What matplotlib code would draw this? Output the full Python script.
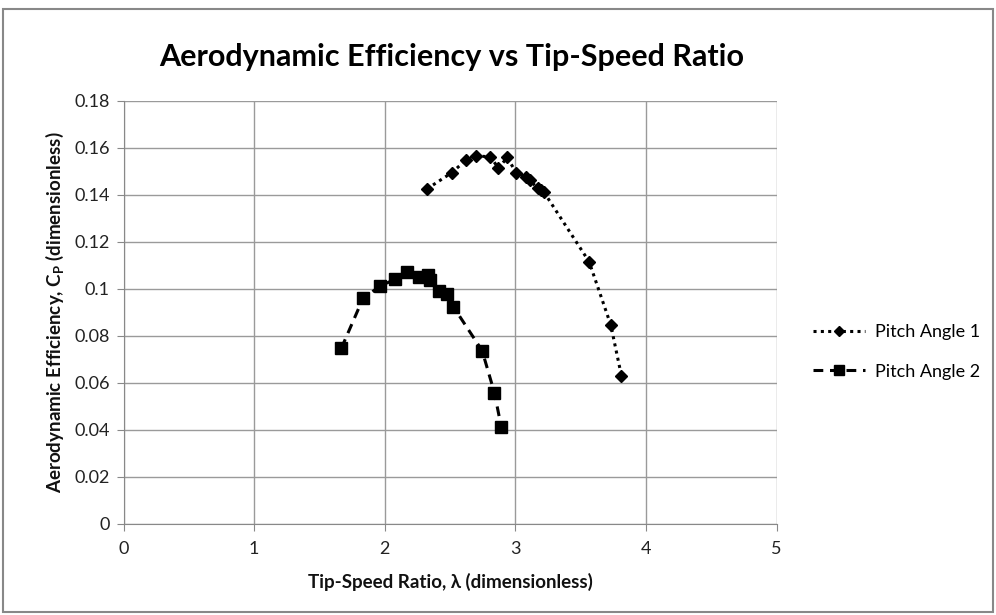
import matplotlib
matplotlib.use("Agg")
import matplotlib.pyplot as plt
from matplotlib.patches import Rectangle

plt.rcParams['font.family'] = ['Lato', 'DejaVu Sans']

# Data
tsr_pitch1 = [2.323, 2.513, 2.623, 2.700, 2.810, 2.871, 2.938, 3.007, 3.084, 3.110,
              3.170, 3.200, 3.220, 3.565, 3.731, 3.813]
cp_pitch1 = [0.1424, 0.1493, 0.1547, 0.1564, 0.1561, 0.1512, 0.1558, 0.1493, 0.1475, 0.1462,
             0.1428, 0.1418, 0.1410, 0.1115, 0.0846, 0.0629]
tsr_pitch2 = [1.668, 1.834, 1.965, 2.078, 2.167, 2.264, 2.333, 2.349, 2.418, 2.477,
              2.525, 2.746, 2.840, 2.892]
cp_pitch2 = [0.0747, 0.0959, 0.1011, 0.1040, 0.1072, 0.1051, 0.1058, 0.1037, 0.0992, 0.0977,
             0.0924, 0.0737, 0.0558, 0.0414]

series_labels = ["Pitch Angle 1", "Pitch Angle 2"]
x_ticks = [0, 1, 2, 3, 4, 5]
y_ticks = [0, 0.02, 0.04, 0.06, 0.08, 0.1, 0.12, 0.14, 0.16, 0.18]
y_tick_labels = ["0", "0.02", "0.04", "0.06", "0.08", "0.1", "0.12", "0.14", "0.16", "0.18"]

title = "Aerodynamic Efficiency vs Tip-Speed Ratio"
xlabel = "Tip-Speed Ratio, λ (dimensionless)"
ylabel = r"Aerodynamic Efficiency, C$_\mathregular{P}$ (dimensionless)"

W, H = 996, 615
fig = plt.figure(figsize=(W / 100, H / 100), dpi=100)
ax = fig.add_axes([123.5 / W, 1 - 524 / H, 653 / W, 423.5 / H])

ax.plot(tsr_pitch1, cp_pitch1, linestyle=(0, (1, 1.4)), linewidth=2.2, color='black',
        marker='D', markersize=6, label=series_labels[0])
ax.plot(tsr_pitch2, cp_pitch2, linestyle=(0, (3.2, 2.2)), linewidth=2.2, color='black',
        marker='s', markersize=8, label=series_labels[1])

ax.set_xlim(0, 5)
ax.set_ylim(0, 0.18)
ax.set_xticks(x_ticks)
ax.set_xticklabels([str(t) for t in x_ticks])
ax.set_yticks(y_ticks)
ax.set_yticklabels(y_tick_labels)
ax.grid(True, color='#9a9a9a', linewidth=1)
ax.set_axisbelow(True)
for s in ['top', 'right']:
    ax.spines[s].set_visible(False)
for s in ['left', 'bottom']:
    ax.spines[s].set_color('#888888')
ax.tick_params(axis='both', colors='#888888', labelcolor='#222222', labelsize=13,
               length=5, direction='out')
ax.tick_params(axis='x', pad=7)
ax.tick_params(axis='y', pad=5)

ax.set_xlabel(xlabel, fontsize=13.5, fontweight='bold', color='#111111', labelpad=12)
ax.set_ylabel(ylabel, fontsize=13.5, fontweight='bold', color='#111111', labelpad=6)
fig.text(452 / W, 1 - 57 / H, title, fontsize=22, fontweight='bold', ha='center', va='center')

leg = fig.legend(loc='center left', bbox_to_anchor=(813 / W, 1 - 352 / H), frameon=False,
                 fontsize=13, handlelength=2.9, handletextpad=0.55, labelspacing=1.3,
                 borderpad=0, borderaxespad=0, markerscale=0.85)

fig.patches.append(Rectangle((3 / W, 3 / H), (W - 6) / W, (H - 12) / H, transform=fig.transFigure,
                             fill=False, edgecolor='#888888', linewidth=1.5))

fig.savefig("out.png", dpi=100, facecolor='white')
